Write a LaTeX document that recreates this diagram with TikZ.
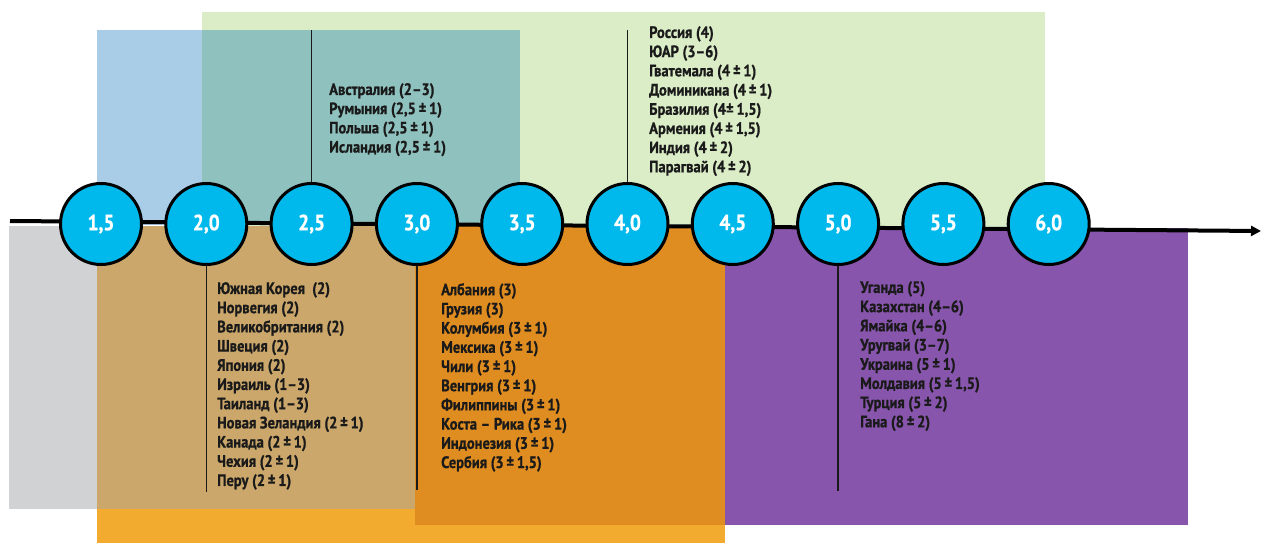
\documentclass[tikz,border=0pt]{standalone}
\usepackage{fontspec}
\setmainfont[FakeStretch=0.88,BoldFeatures={FakeBold=0.8}]{PT Sans}
\usetikzlibrary{arrows.meta}
\definecolor{cgray}{HTML}{D1D2D4}
\definecolor{cblue}{HTML}{A9CCE7}
\definecolor{cteal}{HTML}{8FC1BF}
\definecolor{cgreen}{HTML}{DBEDC6}
\definecolor{ctan}{HTML}{CBA76B}
\definecolor{cyor}{HTML}{F2AB2F}
\definecolor{corange}{HTML}{DF8C21}
\definecolor{cpurple}{HTML}{8855AD}
\definecolor{ccyan}{HTML}{00B9EC}
\definecolor{ctxt}{HTML}{1A1A1A}
\begin{document}
\begin{tikzpicture}[x=1pt,y=-1pt,
  num/.style={circle,draw=black,line width=3pt,fill=ccyan,minimum size=81pt,inner sep=0pt,text=white,font=\bfseries\fontsize{22}{22}\selectfont},
  lst/.style={anchor=north west,inner sep=0pt,align=left,text=ctxt,font=\bfseries\fontsize{16.5}{19.2}\selectfont},
  vline/.style={line width=1.3pt,draw=ctxt},
  axis/.style={line width=4pt,draw=black,-{Triangle[length=10pt,width=10pt]}}]
\useasboundingbox (0,0) rectangle (1261,543);
% background blocks
\fill[cgreen] (202,12) rectangle (1045,227);
\fill[cteal] (202,30) rectangle (520,225);
\fill[cblue] (97,30) rectangle (202,225);
\fill[cgray] (9,226) rectangle (97,509);
\fill[ctan] (97,226) rectangle (415,509);
\fill[cyor] (97,509) rectangle (725,543);
\fill[corange] (415,226) rectangle (725,525);
\fill[cpurple] (725,228) rectangle (1188,525);
% axis
\coordinate (axL) at (10,221);
\coordinate (axR) at (1261,231);
\draw[axis] (axL) -- (axR);
% circles
\node[num] (c15) at (101,224) {1,5};
\node[num] (c20) at (206.3,224) {2,0};
\node[num] (c25) at (311.6,224) {2,5};
\node[num] (c30) at (416.9,224) {3,0};
\node[num] (c35) at (522.2,224) {3,5};
\node[num] (c40) at (627.5,224) {4,0};
\node[num] (c45) at (732.8,224) {4,5};
\node[num] (c50) at (838.1,224) {5,0};
\node[num] (c55) at (943.4,224) {5,5};
\node[num] (c60) at (1048.7,224) {6,0};
% leader lines
\coordinate (t25) at (c25.north |- 0,30);
\coordinate (t40) at (c40.north |- 0,30);
\coordinate (b20) at (c20.south |- 0,492);
\coordinate (b30) at (c30.south |- 0,490);
\coordinate (b50) at (c50.south |- 0,491);
\draw[vline] (c25.north) -- (t25);
\draw[vline] (c40.north) -- (t40);
\draw[vline] (c20.south) -- (b20);
\draw[vline] (c30.south) -- (b30);
\draw[vline] (c50.south) -- (b50);
% lists
\node[lst] (l25) at (329,83) {Австралия (2–3)\\Румыния (2,5\,±\,1)\\Польша (2,5\,±\,1)\\Исландия (2,5\,±\,1)};
\node[lst] (l40) at (649,26) {Россия (4)\\ЮАР (3–6)\\Гватемала (4\,±\,1)\\Доминикана (4\,±\,1)\\Бразилия (4±\,1,5)\\Армения (4\,±\,1,5)\\Индия (4\,±\,2)\\Парагвай (4\,±\,2)};
\node[lst] (l20) at (217,282) {Южная Корея\ \ (2)\\Норвегия (2)\\Великобритания (2)\\Швеция (2)\\Япония (2)\\Израиль (1–3)\\Таиланд (1–3)\\Новая Зеландия (2\,±\,1)\\Канада (2\,±\,1)\\Чехия (2\,±\,1)\\Перу (2\,±\,1)};
\node[lst] (l30) at (441,283) {Албания (3)\\Грузия (3)\\Колумбия (3\,±\,1)\\Мексика (3\,±\,1)\\Чили (3\,±\,1)\\Венгрия (3\,±\,1)\\Филиппины (3\,±\,1)\\Коста – Рика (3\,±\,1)\\Индонезия (3\,±\,1)\\Сербия (3\,±\,1,5)};
\node[lst] (l50) at (860,281) {Уганда (5)\\Казахстан (4–6)\\Ямайка (4–6)\\Уругвай (3–7)\\Украина (5\,±\,1)\\Молдавия (5\,±\,1,5)\\Турция (5\,±\,2)\\Гана (8\,±\,2)};
\end{tikzpicture}
\end{document}
